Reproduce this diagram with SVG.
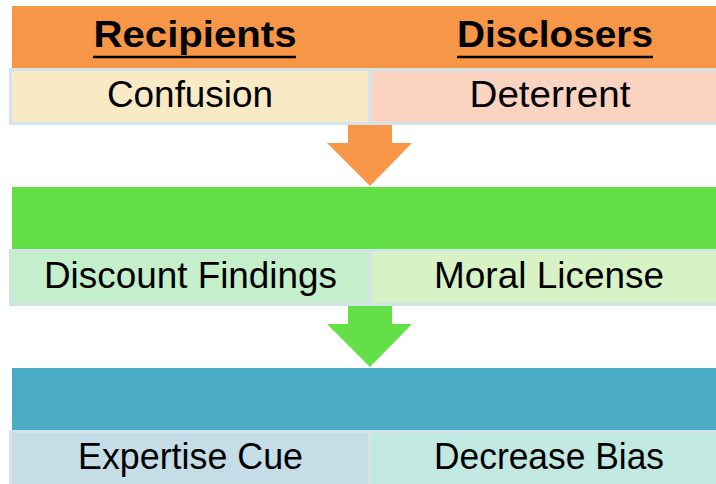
<svg xmlns="http://www.w3.org/2000/svg" width="716" height="484" viewBox="0 0 716 484">
<style>
.hd{font-family:"Liberation Sans",Arial,sans-serif;font-weight:bold;font-size:36px;fill:#000;text-anchor:middle}
.tx{font-family:"Liberation Sans",Arial,sans-serif;font-size:36px;fill:#000;text-anchor:middle}
.cell{stroke:#D3E3EA;stroke-width:3}
.ul{stroke:#000;stroke-width:2.5}
</style>
<rect width="716" height="484" fill="#fff"/>
<g id="connectors">
<polygon points="348,123 392,123 392,143 412,143 370,186 327,143 348,143" fill="#F79646"/>
<polygon points="348,304 392,304 392,324 412,324 370,367 327,324 348,324" fill="#62E046"/>
</g>
<g id="stage1">
<rect x="12" y="6" width="720" height="62" fill="#F79646"/>
<text class="hd" x="195" y="47" textLength="203" lengthAdjust="spacingAndGlyphs">Recipients</text>
<line class="ul" x1="93" y1="57" x2="296" y2="57"/>
<text class="hd" x="555" y="47" textLength="196" lengthAdjust="spacingAndGlyphs">Disclosers</text>
<line class="ul" x1="457" y1="57" x2="653" y2="57"/>
</g>
<g id="confusion">
<rect class="cell" x="10.5" y="69.5" width="359.5" height="54" fill="#F8EAC5"/>
<text class="tx" x="190" y="107" textLength="166" lengthAdjust="spacingAndGlyphs">Confusion</text>
</g>
<g id="deterrent">
<rect class="cell" x="370" y="69.5" width="360" height="54" fill="#FAD4C1"/>
<text class="tx" x="550" y="107" textLength="161" lengthAdjust="spacingAndGlyphs">Deterrent</text>
</g>
<g id="stage2">
<rect x="12" y="187" width="720" height="62" fill="#62E046"/>
</g>
<g id="discount-findings">
<rect class="cell" x="10.5" y="250.5" width="359.5" height="54" fill="#C5EFCA"/>
<text class="tx" x="190.5" y="288" textLength="293" lengthAdjust="spacingAndGlyphs">Discount Findings</text>
</g>
<g id="moral-license">
<rect class="cell" x="370" y="250.5" width="360" height="54" fill="#D7F3C5"/>
<text class="tx" x="549" y="288" textLength="230" lengthAdjust="spacingAndGlyphs">Moral License</text>
</g>
<g id="stage3">
<rect x="12" y="368" width="720" height="62" fill="#4BACC6"/>
</g>
<g id="expertise-cue">
<rect class="cell" x="10.5" y="431.5" width="359.5" height="54" fill="#C4DDE6"/>
<text class="tx" x="190.5" y="469" textLength="225" lengthAdjust="spacingAndGlyphs">Expertise Cue</text>
</g>
<g id="decrease-bias">
<rect class="cell" x="370" y="431.5" width="360" height="54" fill="#C2E9E1"/>
<text class="tx" x="549" y="469" textLength="230" lengthAdjust="spacingAndGlyphs">Decrease Bias</text>
</g>
</svg>
